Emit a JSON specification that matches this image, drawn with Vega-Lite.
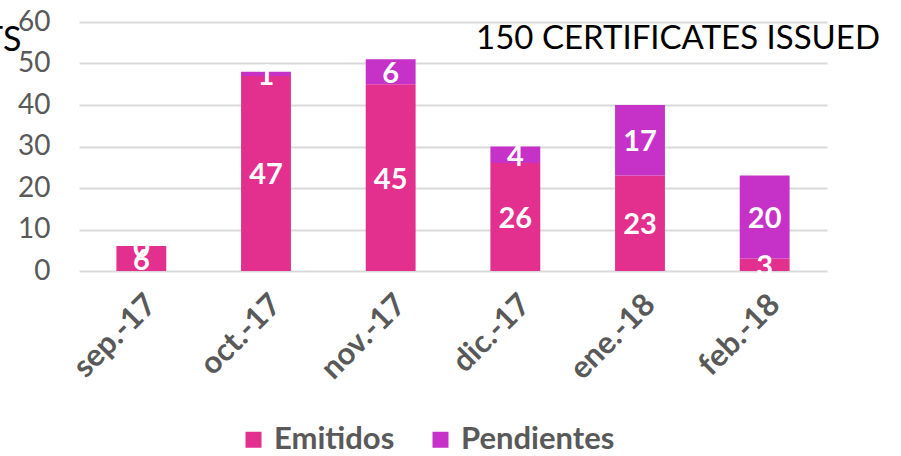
{
  "$schema": "https://vega.github.io/schema/vega-lite/v6.json",
  "autosize": {"type": "none"},
  "width": 748,
  "height": 249,
  "padding": {"left": 79, "top": 22, "right": 74, "bottom": 185},
  "background": "white",
  "title": {
    "text": "150 CERTIFICATES ISSUED",
    "anchor": "end",
    "frame": "group",
    "dx": 53,
    "offset": -48,
    "font": "Lato",
    "fontSize": 33,
    "fontWeight": "normal",
    "color": "#000000"
  },
  "data": {
    "values": [
      {"month": "sep.-17", "series": "Emitidos", "value": 6},
      {"month": "sep.-17", "series": "Pendientes", "value": 0},
      {"month": "oct.-17", "series": "Emitidos", "value": 47},
      {"month": "oct.-17", "series": "Pendientes", "value": 1},
      {"month": "nov.-17", "series": "Emitidos", "value": 45},
      {"month": "nov.-17", "series": "Pendientes", "value": 6},
      {"month": "dic.-17", "series": "Emitidos", "value": 26},
      {"month": "dic.-17", "series": "Pendientes", "value": 4},
      {"month": "ene.-18", "series": "Emitidos", "value": 23},
      {"month": "ene.-18", "series": "Pendientes", "value": 17},
      {"month": "feb.-18", "series": "Emitidos", "value": 3},
      {"month": "feb.-18", "series": "Pendientes", "value": 20}
    ]
  },
  "encoding": {
    "x": {
      "field": "month",
      "type": "nominal",
      "sort": ["sep.-17", "oct.-17", "nov.-17", "dic.-17", "ene.-18", "feb.-18"],
      "scale": {"paddingInner": 0.6, "paddingOuter": 0.3},
      "axis": {
        "title": null,
        "labelAngle": -45,
        "labelFont": "Lato",
        "labelFontSize": 31,
        "labelFontWeight": "bold",
        "labelColor": "#595959",
        "labelPadding": 18,
        "ticks": false,
        "domain": false,
        "grid": false
      }
    }
  },
  "layer": [
    {
      "mark": {"type": "bar"},
      "encoding": {
        "y": {
          "field": "value",
          "type": "quantitative",
          "aggregate": "sum",
          "stack": "zero",
          "scale": {"domain": [0, 60], "nice": false},
          "axis": {
            "title": "TS",
            "titleAngle": 0,
            "titleAlign": "right",
            "titleBaseline": "alphabetic",
            "titleX": -58,
            "titleY": 28,
            "titleFont": "Lato",
            "titleFontSize": 34,
            "titleFontWeight": "normal",
            "titleColor": "#000000",
            "values": [0, 10, 20, 30, 40, 50, 60],
            "labelFont": "Lato",
            "labelFontSize": 28,
            "labelColor": "#595959",
            "labelPadding": 29,
            "ticks": false,
            "domain": false,
            "grid": true,
            "gridColor": "#D9D9D9",
            "gridWidth": 2
          }
        },
        "color": {
          "field": "series",
          "type": "nominal",
          "scale": {"domain": ["Emitidos", "Pendientes"], "range": ["#E3308E", "#C631C8"]},
          "legend": {
            "title": null,
            "orient": "none",
            "direction": "horizontal",
            "legendX": 159,
            "legendY": 402,
            "symbolType": "square",
            "symbolSize": 256,
            "symbolStrokeWidth": 0,
            "labelFont": "Lato",
            "labelFontSize": 31,
            "labelFontWeight": "bold",
            "labelColor": "#595959",
            "labelOffset": 5,
            "labelLimit": 400,
            "columnPadding": 30
          }
        },
        "order": {"field": "series", "type": "nominal", "sort": "ascending"}
      }
    },
    {
      "transform": [
        {"stack": "value", "groupby": ["month"], "sort": [{"field": "series", "order": "ascending"}], "as": ["y0", "y1"]},
        {"fold": ["y0", "y1"], "as": ["edge", "pos"]}
      ],
      "mark": {"type": "text", "color": "white", "font": "Lato", "fontSize": 29, "fontWeight": "bold", "baseline": "middle", "align": "center", "dy": 2},
      "encoding": {
        "y": {"field": "pos", "type": "quantitative", "aggregate": "mean", "stack": null},
        "detail": {"field": "series", "type": "nominal"},
        "text": {"field": "value", "type": "quantitative", "aggregate": "max"}
      }
    }
  ],
  "config": {
    "view": {"stroke": null}
  }
}
